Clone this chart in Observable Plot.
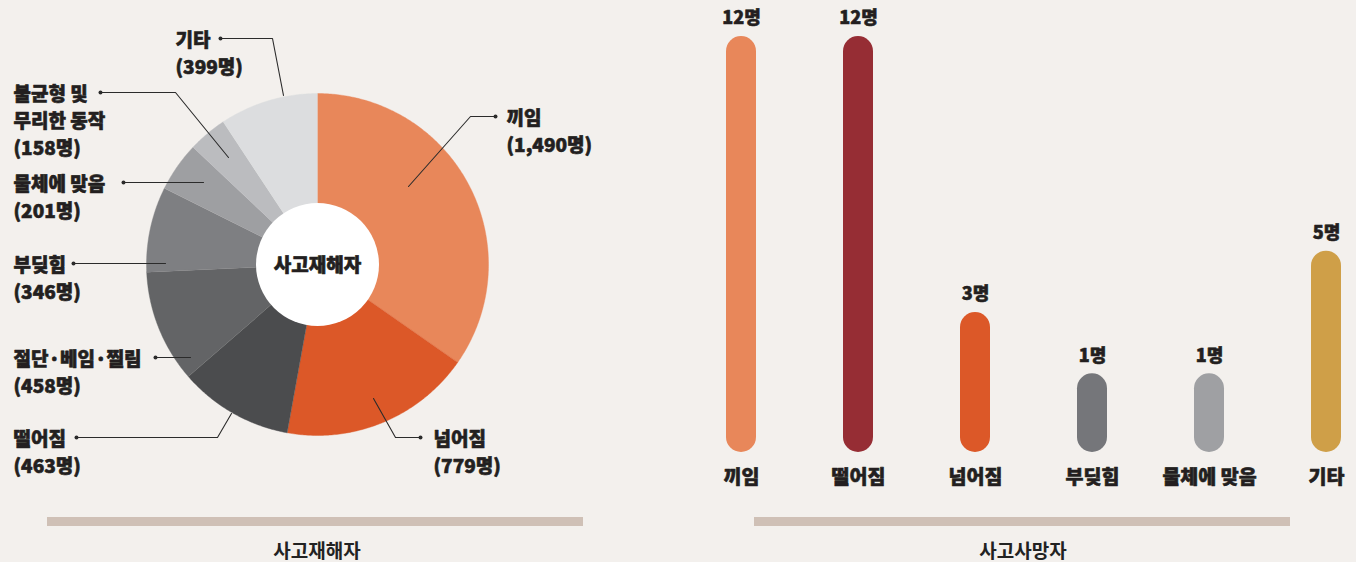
<!DOCTYPE html>
<html>
<head>
<meta charset="utf-8">
<script src="https://cdn.jsdelivr.net/npm/d3@7"></script>
<script src="https://cdn.jsdelivr.net/npm/@observablehq/plot@0.6"></script>
<style>
html, body { margin: 0; padding: 0; background: #f3f0ed; }
#wrap { position: relative; width: 1356px; height: 562px; background: #f3f0ed; overflow: hidden;
  font-family: "Noto Sans CJK KR", "Noto Sans", sans-serif; }
#pie { position: absolute; left: 0; top: 0; }
#bars { position: absolute; left: 680px; top: 0; }
.band { position: absolute; top: 517px; height: 9px; background: #cfc0b6; }
.title { position: absolute; top: 536px; width: 300px; text-align: center; font-size: 19px;
  font-weight: 700; color: #222; line-height: 28px; }
</style>
</head>
<body>
<div id="wrap">
  <div id="pie"></div>
  <div id="bars"></div>
  <div class="band" style="left:47px;width:536px"></div>
  <div class="band" style="left:754px;width:536px"></div>
  <div class="title" style="left:167px">사고재해자</div>
  <div class="title" style="left:873px">사고사망자</div>
</div>
<script>
// ---------- data ----------
const injuryCategories = ["끼임", "넘어짐", "떨어짐", "절단·베임·찔림", "부딪힘", "물체에 맞음", "불균형 및 무리한 동작", "기타"];
const injuryLabelLines = [["끼임"], ["넘어짐"], ["떨어짐"], ["절단·베임·찔림"], ["부딪힘"], ["물체에 맞음"], ["불균형 및", "무리한 동작"], ["기타"]];
const injuryValues = [1490, 779, 463, 458, 346, 201, 158, 399];
const injuryColors = ["#e8875a", "#dc5828", "#4b4c4e", "#636466", "#7e7f82", "#9e9fa2", "#bbbcbf", "#dcdddf"];

const fatalCategories = ["끼임", "떨어짐", "넘어짐", "부딪힘", "물체에 맞음", "기타"];
const fatalValues = [12, 12, 3, 1, 1, 5];
const fatalColors = ["#e8875a", "#962d34", "#dc5828", "#75767a", "#9fa0a3", "#cf9f48"];

const centerLabel = "사고재해자";
const unit = "명";

// ---------- pie (donut) ----------
const PW = 680, PH = 500, cx = 317, cy = 264, R = 171, hole = 61.5;
const fmt = d3.format(",");

const arcs = d3.pie().sort(null).value(d => d)(injuryValues);
const slicePoints = [];
arcs.forEach((a, i) => {
  slicePoints.push({name: injuryCategories[i], x: cx, y: cy});
  const steps = Math.max(2, Math.ceil((a.endAngle - a.startAngle) / 0.01));
  for (let k = 0; k <= steps; k++) {
    const t = a.startAngle + (a.endAngle - a.startAngle) * k / steps;
    slicePoints.push({name: injuryCategories[i], x: cx + R * Math.sin(t), y: cy - R * Math.cos(t)});
  }
});

// annotation layout (leader lines: dot -> elbow -> end inside slice), label x
const pieLabelLayout = [
  {dot: [495, 116], elbow: [470, 116], end: [408, 186], tx: 506},
  {dot: [420, 437], elbow: [395, 437], end: [373, 398], tx: 433},
  {dot: [76, 437],  elbow: [217, 437], end: [231, 413], tx: 13},
  {dot: [155, 357], elbow: null,       end: [190, 357], tx: 13},
  {dot: [73, 263],  elbow: null,       end: [165, 263], tx: 13},
  {dot: [123, 182], elbow: null,       end: [203, 182], tx: 13},
  {dot: [100, 92],  elbow: [175, 92],  end: [228, 157], tx: 13},
  {dot: [220, 38],  elbow: [272, 38],  end: [283, 95],  tx: 175}
];
const lineGap = 27;

const leaderPts = [];
const dots = [];
const labelRows = [];
pieLabelLayout.forEach((L, i) => {
  const pts = [L.dot, L.elbow, L.end].filter(Boolean);
  pts.forEach(p => leaderPts.push({id: i, x: p[0], y: p[1]}));
  dots.push({x: L.dot[0], y: L.dot[1]});
  const lines = [...injuryLabelLines[i], `(${fmt(injuryValues[i])}${unit})`];
  lines.forEach((t, j) => labelRows.push({x: L.tx, y: L.dot[1] + 2 + j * lineGap, text: t}));
});

const heavy = {fontWeight: 900, fill: "#231f20", stroke: "#231f20", strokeWidth: 0.6, paintOrder: "fill"};

const pie = Plot.plot({
  width: PW, height: PH,
  margin: 0,
  style: {background: "transparent", fontFamily: '"Noto Sans CJK KR", sans-serif', overflow: "visible"},
  x: {domain: [0, PW], range: [0, PW], axis: null},
  y: {domain: [0, PH], range: [0, PH], axis: null},
  color: {domain: injuryCategories, range: injuryColors},
  marks: [
    ...injuryCategories.map(name =>
      Plot.line(slicePoints.filter(p => p.name === name), {x: "x", y: "y", fill: () => name, stroke: () => name, strokeWidth: 0.4})
    ),
    Plot.dot([{x: cx, y: cy}], {x: "x", y: "y", r: hole, fill: "#ffffff", stroke: "none"}),
    Plot.text([{x: cx, y: cy + 1, t: centerLabel}], {x: "x", y: "y", text: "t", fontSize: 19, ...heavy}),
    Plot.line(leaderPts, {x: "x", y: "y", z: "id", stroke: "#2b2b2b", strokeWidth: 1.1}),
    Plot.dot(dots, {x: "x", y: "y", r: 2, fill: "#2b2b2b", stroke: "none"}),
    Plot.text(labelRows, {x: "x", y: "y", text: "text", textAnchor: "start", fontSize: 19, ...heavy})
  ]
});
document.getElementById("pie").appendChild(pie);

// ---------- bars ----------
const fatal = fatalCategories.map((c, i) => ({cat: c, v: fatalValues[i]}));
const BW = 676, BH = 500;
const bars = Plot.plot({
  width: BW, height: BH,
  margin: 0,
  style: {background: "transparent", fontFamily: '"Noto Sans CJK KR", sans-serif', overflow: "visible"},
  x: {type: "band", domain: fatalCategories, range: [44, 662], paddingInner: 0.745, paddingOuter: 0, axis: null},
  y: {domain: [0, 12], range: [404, 36], axis: null},
  color: {domain: fatalCategories, range: fatalColors},
  marks: [
    Plot.barY(fatal, {x: "cat", y: "v", fill: "cat", rx: 15, insetBottom: -48}),
    Plot.text(fatal, {x: "cat", y: "v", text: d => `${d.v}${unit}`, dy: -18, fontSize: 18, letterSpacing: "-0.5px", ...heavy}),
    Plot.text(fatal, {x: "cat", y: () => 0, text: "cat", dy: 73, fontSize: 19.5, ...heavy})
  ]
});
document.getElementById("bars").appendChild(bars);
</script>
</body>
</html>
